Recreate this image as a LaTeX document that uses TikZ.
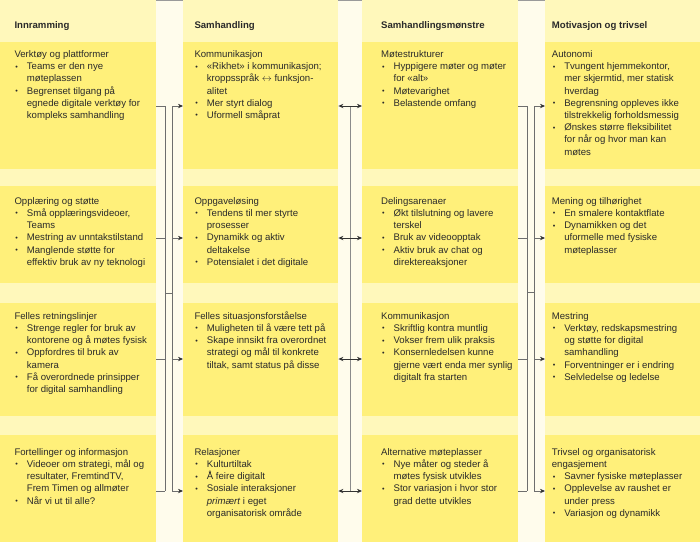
\documentclass[tikz,border=0pt]{standalone}
\usepackage{graphicx}
\usepackage{fontspec}
\setmainfont{Liberation Sans}
\usetikzlibrary{arrows.meta}
\definecolor{boxy}{HTML}{FFF07A}
\definecolor{bandy}{HTML}{FFF8BB}
\definecolor{gapc}{HTML}{FFFCEC}
\definecolor{txt}{HTML}{2A2A2A}
\definecolor{lnc}{HTML}{6E6E6E}
\definecolor{arrc}{HTML}{333333}
\newcommand\bitem[1]{\par\hangindent=12.4pt\hangafter=1\noindent\makebox[12.4pt][l]{\hspace{0.9pt}\raisebox{0.1ex}{\scalebox{0.75}{\textbullet}}}#1}
\newcommand\boxtext[1]{\parbox[t]{175pt}{#1}}
\tikzset{
  box/.style={fill=boxy, draw=none, inner sep=0pt, anchor=north west},
  tx/.style={anchor=base west, inner sep=0pt, text=txt, font=\fontsize{9.6}{12.2}\selectfont},
  hd/.style={anchor=base west, inner sep=0pt, text=txt, font=\fontsize{9.6}{12.2}\selectfont\bfseries},
  ln/.style={draw=lnc, line width=0.8pt},
  arr/.style={-{Stealth[length=5pt,width=4.4pt,color=arrc]}},
  dbl/.style={{Stealth[length=5pt,width=4.4pt,color=arrc]}-{Stealth[length=5pt,width=4.4pt,color=arrc]}, draw=arrc}
}
\begin{document}
\begin{tikzpicture}[x=1pt,y=-1pt]
\useasboundingbox (0,0) rectangle (700,542);
\fill[gapc] (0,0) rectangle (700,542);
% column bands
\fill[bandy] (0,0) rectangle (156,542);
\fill[bandy] (183,0) rectangle (338,542);
\fill[bandy] (362,0) rectangle (518,542);
\fill[bandy] (545,0) rectangle (700,542);
% thin top lines in gaps
\draw[lnc!70, line width=0.6pt] (156,0.3) -- (183,0.3);
\draw[lnc!70, line width=0.6pt] (338,0.3) -- (362,0.3);
\draw[lnc!70, line width=0.6pt] (518,0.3) -- (545,0.3);
% boxes
\foreach \c/\x/\w in {1/0/156,2/183/155,3/362/156,4/545/155}{
  \foreach \r/\y/\h in {1/42/127,2/186/97,3/303/113,4/435/107}{
    \node[box, minimum width=\w pt, minimum height=\h pt] (b\c\r) at (\x,\y) {};
  }
}
% headers
\node[hd] (h1) at (14.3,28) {Innramming};
\node[hd] (h2) at (194.3,28) {Samhandling};
\node[hd] (h3) at (381,28) {Samhandlingsmønstre};
\node[hd] (h4) at (551.7,28) {Motivasjon og trivsel};
% column 1
\node[tx] (t11) at (14.3,57.5) {\boxtext{Verktøy og plattformer
\bitem{Teams er den nye\newline møteplassen}
\bitem{Begrenset tilgang på\newline egnede digitale verktøy for\newline kompleks samhandling}}};
\node[tx] (t12) at (14.3,204.2) {\boxtext{Opplæring og støtte
\bitem{Små opplæringsvideoer,\newline Teams}
\bitem{Mestring av unntakstilstand}
\bitem{Manglende støtte for\newline effektiv bruk av ny teknologi}}};
\node[tx] (t13) at (14.3,319.2) {\boxtext{Felles retningslinjer
\bitem{Strenge regler for bruk av\newline kontorene og å møtes fysisk}
\bitem{Oppfordres til bruk av\newline kamera}
\bitem{Få overordnede prinsipper\newline for digital samhandling}}};
\node[tx] (t14) at (14.3,455.2) {\boxtext{Fortellinger og informasjon
\bitem{Videoer om strategi, mål og\newline resultater, FremtindTV,\newline Frem Timen og allmøter}
\bitem{Når vi ut til alle?}}};
% column 2
\node[tx] (t21) at (194.3,57.5) {\boxtext{Kommunikasjon
\bitem{«Rikhet» i kommunikasjon;\newline kroppsspråk $\leftrightarrow$ funksjon-\newline alitet}
\bitem{Mer styrt dialog}
\bitem{Uformell småprat}}};
\node[tx] (t22) at (194.3,204.2) {\boxtext{Oppgaveløsing
\bitem{Tendens til mer styrte\newline prosesser}
\bitem{Dynamikk og aktiv\newline deltakelse}
\bitem{Potensialet i det digitale}}};
\node[tx] (t23) at (194.3,319.2) {\boxtext{Felles situasjonsforståelse
\bitem{Muligheten til å være tett på}
\bitem{Skape innsikt fra overordnet\newline strategi og mål til konkrete\newline tiltak, samt status på disse}}};
\node[tx] (t24) at (194.3,455.2) {\boxtext{Relasjoner
\bitem{Kulturtiltak}
\bitem{Å feire digitalt}
\bitem{Sosiale interaksjoner\newline \textit{primært} i eget\newline organisatorisk område}}};
% column 3
\node[tx] (t31) at (381,57.5) {\boxtext{Møtestrukturer
\bitem{Hyppigere møter og møter\newline for «alt»}
\bitem{Møtevarighet}
\bitem{Belastende omfang}}};
\node[tx] (t32) at (381,204.2) {\boxtext{Delingsarenaer
\bitem{Økt tilslutning og lavere\newline terskel}
\bitem{Bruk av videoopptak}
\bitem{Aktiv bruk av chat og\newline direktereaksjoner}}};
\node[tx] (t33) at (381,319.2) {\boxtext{Kommunikasjon
\bitem{Skriftlig kontra muntlig}
\bitem{Vokser frem ulik praksis}
\bitem{Konsernledelsen kunne\newline gjerne vært enda mer synlig\newline digitalt fra starten}}};
\node[tx] (t34) at (381,455.2) {\boxtext{Alternative møteplasser
\bitem{Nye måter og steder å\newline møtes fysisk utvikles}
\bitem{Stor variasjon i hvor stor\newline grad dette utvikles}}};
% column 4
\node[tx] (t41) at (551.7,57.5) {\boxtext{Autonomi
\bitem{Tvungent hjemmekontor,\newline mer skjermtid, mer statisk\newline hverdag}
\bitem{Begrensning oppleves ikke\newline tilstrekkelig forholdsmessig}
\bitem{Ønskes større fleksibilitet\newline for når og hvor man kan\newline møtes}}};
\node[tx] (t42) at (551.7,204.2) {\boxtext{Mening og tilhørighet
\bitem{En smalere kontaktflate}
\bitem{Dynamikken og det\newline uformelle med fysiske\newline møteplasser}}};
\node[tx] (t43) at (551.7,319.2) {\boxtext{Mestring
\bitem{Verktøy, redskapsmestring\newline og støtte for digital\newline samhandling}
\bitem{Forventninger er i endring}
\bitem{Selvledelse og ledelse}}};
\node[tx] (t44) at (551.7,455.2) {\boxtext{Trivsel og organisatorisk\newline engasjement
\bitem{Savner fysiske møteplasser}
\bitem{Opplevelse av raushet er\newline under press}
\bitem{Variasjon og dynamikk}}};
% connector coordinates
\coordinate (y1) at (0,106);
\coordinate (y2) at (0,238);
\coordinate (y3) at (0,359);
\coordinate (y4) at (0,491);
\coordinate (jl) at (0,293);
\coordinate (jr) at (0,292);
\coordinate (L) at (165,0);
\coordinate (R) at (172,0);
\coordinate (M) at (350,0);
\coordinate (L2) at (527,0);
\coordinate (R2) at (534,0);
% buses
\draw[ln] (L |- y1) -- (L |- y4);
\draw[ln] (R |- y1) -- (R |- y4);
\draw[ln] (L |- jl) -- (R |- jl);
\draw[ln, line width=1pt, draw=lnc!80] (M |- y1) -- (M |- y4);
\draw[ln] (L2 |- y1) -- (L2 |- y4);
\draw[ln] (R2 |- y1) -- (R2 |- y4);
\draw[ln] (L2 |- jr) -- (R2 |- jr);
% stubs and arrows
\foreach \r in {1,2,3,4}{
  \draw[ln] (b1\r.east |- y\r) -- (L |- y\r);
  \draw[ln, arr] (R |- y\r) -- (b2\r.west |- y\r);
  \draw[ln, dbl] (b2\r.east |- y\r) -- (b3\r.west |- y\r);
  \draw[ln] (b3\r.east |- y\r) -- (L2 |- y\r);
  \draw[ln, arr] (R2 |- y\r) -- (b4\r.west |- y\r);
}
\end{tikzpicture}
\end{document}
